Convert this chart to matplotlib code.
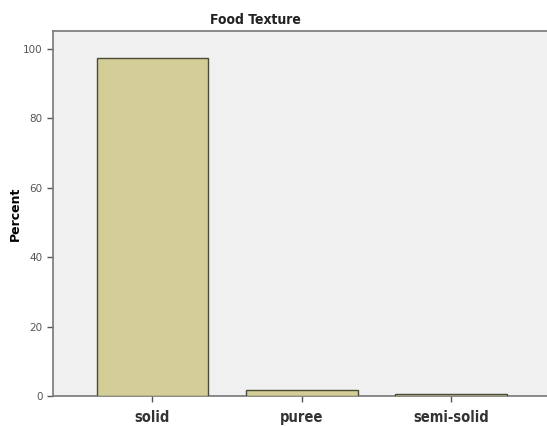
import matplotlib
matplotlib.use("Agg")
import matplotlib.pyplot as plt

categories = ["solid", "puree", "semi-solid"]
percents = [97.5, 1.7, 0.6]
y_ticks = [0, 20, 40, 60, 80, 100]

fig = plt.figure(figsize=(5.47, 4.26), dpi=100)
ax = fig.add_axes([53 / 547, 1 - 396 / 426, 494 / 547, 365 / 426])
ax.set_facecolor("#f0f0f0")

x = range(len(categories))
ax.bar(x, percents, width=0.75, color="#d3ce97", edgecolor="#4a4a3a", linewidth=1.0, zorder=3)

ax.set_xlim(-0.667, 2.645)
ax.set_ylim(0, 105.2)
ax.set_xticks(list(x))
ax.set_xticklabels(categories, fontstretch="condensed", fontweight="bold", fontsize=10.5, color="#333333")
ax.set_yticks(y_ticks)
ax.set_yticklabels([str(t) for t in y_ticks], fontsize=7.5, color="#555555")
ax.tick_params(axis="both", length=4, width=1, color="#555555")
ax.tick_params(axis="x", pad=6)

for side in ["left", "bottom", "top"]:
    ax.spines[side].set_color("#777777")
    ax.spines[side].set_linewidth(1.2)
ax.spines["right"].set_visible(False)

ax.set_ylabel("Percent", fontsize=9, fontweight="bold")
ax.yaxis.set_label_coords(-0.064, 0.5)
ax.set_title("Food Texture", fontstretch="condensed", fontsize=10, fontweight="bold",
             color="#222222", pad=5, x=0.41)

fig.savefig("out.png", dpi=100)
